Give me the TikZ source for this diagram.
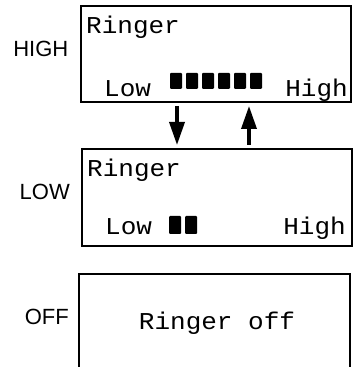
\documentclass[tikz,border=0pt]{standalone}
\usepackage{fontspec}
\setsansfont{Liberation Sans}
\newfontfamily\lcdfont{Liberation Mono}
\usepackage{tikz}
\usetikzlibrary{shapes.geometric, arrows.meta}
\tikzstyle{lcdbox} = [rectangle, minimum width=270pt, minimum height=96pt, draw=black, line width=1.5pt, inner sep=0pt, outer sep=0pt]
\tikzstyle{lcdtext} = [inner sep=0pt, transform shape, yscale=0.93, font=\lcdfont\fontsize{26}{26}\selectfont]
\tikzstyle{modelabel} = [inner sep=0pt, anchor=east, font=\sffamily\fontsize{22}{22}\selectfont]
\tikzstyle{bar} = [fill=black, rounded corners=1pt]
\tikzstyle{arrow} = [line width=3.5pt, -{Triangle[length=23pt,width=15pt]}, shorten <=4pt, shorten >=4pt]

\begin{document}
\begin{tikzpicture}[x=1pt, y=1pt, node distance=143.5pt]
\useasboundingbox (0,0) rectangle (353,367);
\fill [white] (0,0) rectangle (353,367);
\node (highbox) [lcdbox] at (216,313) {};
\node (lowbox) [lcdbox, below of=highbox, xshift=1pt, minimum height=97pt] {};
\node (offbox) [lcdbox, below of=lowbox, xshift=-2.5pt, yshift=17pt, minimum width=271pt, minimum height=100pt] {};
% mode labels
\node (highlabel) [modelabel] at ([xshift=-12.5pt,yshift=5.5pt]highbox.west) {HIGH};
\node (lowlabel) [modelabel] at ([xshift=-12pt,yshift=6pt]lowbox.west) {LOW};
\node (offlabel) [modelabel] at ([xshift=-10pt,yshift=7.5pt]offbox.west) {OFF};
% display HIGH
\node (highringer) [lcdtext, anchor=base west] at ([xshift=5pt,yshift=-28pt]highbox.north west) {Ringer};
\node (highlow) [lcdtext, anchor=base west] at ([xshift=23pt,yshift=5pt]highbox.south west) {Low};
\node (highhigh) [lcdtext, anchor=base east] at ([xshift=-3pt,yshift=5pt]highbox.south east) {High};
\foreach \i in {0,...,5}
  \fill [bar] ([xshift={89pt+16pt*\i}, yshift=13pt]highbox.south west) rectangle ++(12,16);
% display LOW
\node (lowringer) [lcdtext, anchor=base west] at ([xshift=5pt,yshift=-28pt]lowbox.north west) {Ringer};
\node (lowlow) [lcdtext, anchor=base west] at ([xshift=23pt,yshift=11pt]lowbox.south west) {Low};
\node (lowhigh) [lcdtext, anchor=base east] at ([xshift=-6pt,yshift=11pt]lowbox.south east) {High};
\foreach \i in {0,1}
  \fill [bar] ([xshift={87pt+16pt*\i}, yshift=12pt]lowbox.south west) rectangle ++(12,18);
% display OFF
\node (offtext) [lcdtext, anchor=base] at ([xshift=2.5pt,yshift=-6pt]offbox.center) {Ringer off};
\draw [arrow] ([xshift=-39pt]highbox.south) -- ([xshift=-40pt]lowbox.north);
\draw [arrow] ([xshift=32pt]lowbox.north) -- ([xshift=33pt]highbox.south);
\end{tikzpicture}
\end{document}
